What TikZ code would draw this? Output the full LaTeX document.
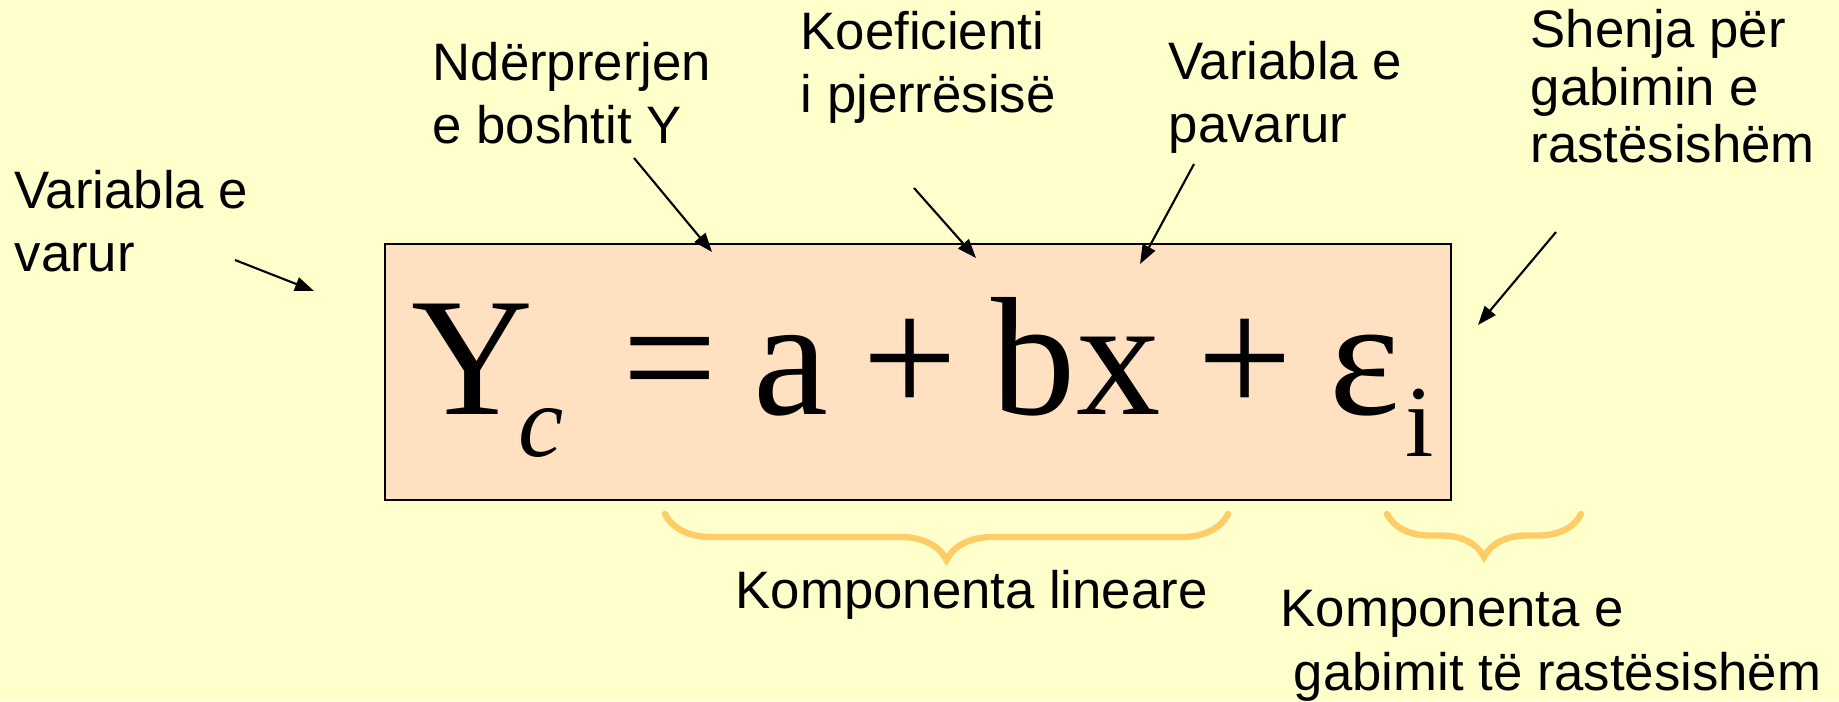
\documentclass[tikz,border=0pt]{standalone}
\usepackage{fontspec}
\setmainfont{Liberation Sans}
\newfontfamily\eqfont{Liberation Serif}
\usetikzlibrary{positioning,arrows.meta,calc,decorations.pathreplacing}
\definecolor{slidebg}{HTML}{FFFFCC}
\definecolor{boxfill}{HTML}{FFE0C1}
\definecolor{bracegold}{HTML}{FFCC66}
\newcommand{\subtxt}[1]{\raisebox{-12.2pt}{\fontsize{29}{29}\selectfont #1}}

\begin{document}
\begin{tikzpicture}[>={Triangle[length=1.9mm,width=1.4mm]},
  lbl/.style={font=\fontsize{15}{18}\selectfont,align=left,inner sep=0pt,anchor=base west},
  ptr/.style={->,line width=0.6pt},
  curly/.style={decorate,decoration={brace,amplitude=4.6mm,mirror},bracegold,line width=1.8pt,line cap=round}]
\fill[slidebg] (0,0) rectangle (18.39,7.01);
\useasboundingbox (0,0) rectangle (18.39,7.01);
% equation box
\node[draw=black,line width=0.8pt,fill=boxfill,minimum width=10.66cm,minimum height=2.56cm,inner sep=0pt] (box) at (9.18,3.29) {};
\node[anchor=base west,inner sep=0pt,font=\eqfont\fontsize{48}{48}\selectfont] (eq) at (4.11,2.87)
  {Y\kern-4.3pt\subtxt{\itshape c}\hspace{16.8pt}=\hspace{10.2pt}a\hspace{9.7pt}+\hspace{9.7pt}bx\hspace{10.5pt}+\hspace{10.5pt}ε\kern1.5pt\subtxt{i}};
% labels above (anchored at the last line)
\node[lbl] (depvar) at (0.14,4.29) {Variabla e\\varur};
\node[lbl] (intercept) at (4.32,5.57) {Ndërprerjen\\e boshtit Y};
\node[lbl] (slope) at (8.00,5.88) {Koeficienti\\i pjerrësisë};
\node[lbl] (indvar) at (11.68,5.58) {Variabla e\\pavarur};
\node[lbl,font=\fontsize{15}{16.5}\selectfont] (errsign) at (15.30,5.38) {Shenja për\\gabimin e\\rastësishëm};
% pointers
\coordinate (depvar-tail) at (2.35,4.41);
\coordinate (depvar-head) at (3.14,4.10);
\coordinate (intercept-tail) at (6.34,5.43);
\coordinate (intercept-head) at (7.12,4.49);
\coordinate (slope-tail) at (9.14,5.13);
\coordinate (slope-head) at (9.76,4.43);
\coordinate (indvar-tail) at (11.94,5.37);
\coordinate (indvar-head) at (11.40,4.37);
\coordinate (errsign-tail) at (15.56,4.69);
\coordinate (errsign-head) at (14.78,3.76);
\foreach \n in {depvar,intercept,slope,indvar,errsign}{
  \draw[ptr] (\n-tail) -- (\n-head);
}
% braces below
\coordinate (linpart-l) at (6.65,1.87);
\coordinate (linpart-r) at (12.28,1.87);
\coordinate (errpart-l) at (13.87,1.87);
\coordinate (errpart-r) at (15.81,1.87);
\draw[curly] (linpart-l) -- (linpart-r);
\draw[curly,decoration={amplitude=4.3mm}] (errpart-l) -- (errpart-r);
\node[lbl] (linpart) at (7.35,0.93) {Komponenta lineare};
\node[lbl] (errpart) at (12.80,0.11) {Komponenta e\\\hspace{0.25em}gabimit të rastësishëm};
\end{tikzpicture}
\end{document}
